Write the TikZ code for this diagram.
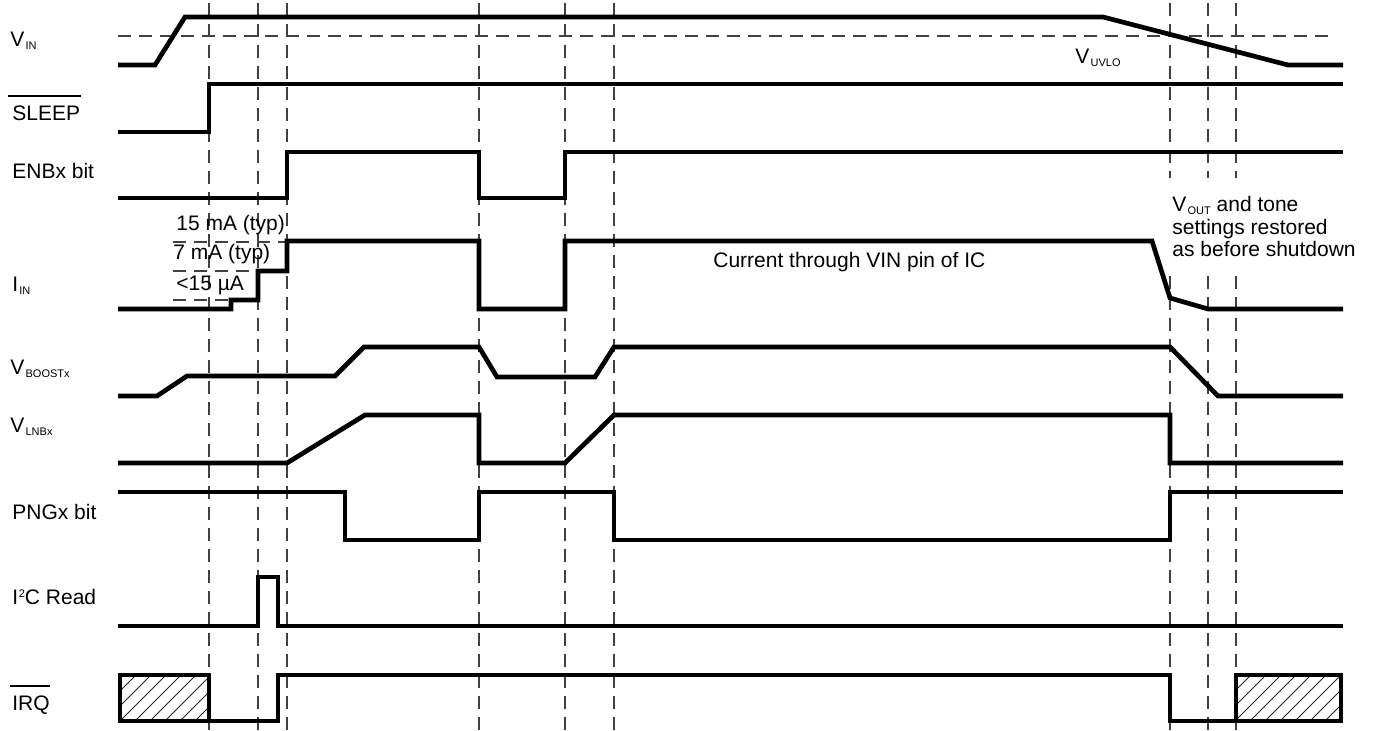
\documentclass[tikz,border=0pt]{standalone}
\usepackage{fontspec}
\setmainfont{Liberation Sans}
\newcommand\tsub[1]{\kern0.6pt\raisebox{-1.5pt}{\fontsize{5.5}{6}\selectfont #1}}
\newcommand\tsup[1]{\kern0.3pt\raisebox{3.8pt}{\fontsize{5.5}{6}\selectfont #1}}
\begin{document}
\begin{tikzpicture}[x=0.5pt,y=-0.5pt,
  sig/.style={line width=2.35pt,line join=miter,line cap=butt},
  guide/.style={line width=0.65pt,dash pattern=on 6.5pt off 4pt,black!75},
  lbl/.style={anchor=base west,inner sep=0pt,font=\fontsize{10.5}{12}\selectfont},
  hatchline/.style={line width=0.45pt,black!85},
  ovl/.style={line width=0.75pt}]
\useasboundingbox (0,0) rectangle (1373,731);

% timing guides
\foreach \x in {209,258,287,479,565,614,1170,1208,1236}
  \draw[guide] (\x,3) -- (\x,731);
\draw[guide] (118,36) -- (1335,36);
\draw[guide] (173,242) -- (287,242);
\draw[guide] (173,271) -- (258,271);
\draw[guide] (173,300) -- (231,300);

% white area behind the note
\fill[white] (1166,178) rectangle (1370,272);

% signals
\draw[sig] (118,65) -- (155,65) -- (185,17) -- (1103,17) -- (1288,65) -- (1343,65);
\draw[sig] (118,132) -- (209,132) -- (209,84) -- (1343,84);
\draw[sig] (118,198) -- (287,198) -- (287,152) -- (479,152) -- (479,198) -- (565,198) -- (565,152) -- (1343,152);
\draw[sig] (118,309) -- (231,309) -- (231,300) -- (258,300) -- (258,271) -- (287,271) -- (287,241) -- (479,241) -- (479,309) -- (565,309) -- (565,241) -- (1152,241) -- (1170,298) -- (1208,309) -- (1343,309);
\draw[sig] (118,396) -- (157,396) -- (187,376) -- (335,376) -- (364,347) -- (479,347) -- (497,377) -- (595,377) -- (614,347) -- (1170,347) -- (1218,396) -- (1343,396);
\draw[sig] (118,463) -- (287,463) -- (365,415) -- (479,415) -- (479,463) -- (565,463) -- (614,415) -- (1170,415) -- (1170,463) -- (1343,463);
\draw[sig] (118,492) -- (345,492) -- (345,540) -- (479,540) -- (479,492) -- (614,492) -- (614,540) -- (1170,540) -- (1170,492) -- (1343,492);
\draw[sig] (118,626) -- (258,626) -- (258,577) -- (278,577) -- (278,626) -- (1343,626);

% IRQ with hatched (undefined) regions
\begin{scope}
  \clip (120,675) rectangle (209,721);
  \foreach \i in {0,...,10} \draw[hatchline] (75+15*\i,721) -- ++(50,-50);
\end{scope}
\begin{scope}
  \clip (1236,675) rectangle (1341,721);
  \foreach \i in {0,...,11} \draw[hatchline] (1190+15*\i,721) -- ++(50,-50);
\end{scope}
\draw[sig] (120,675) rectangle (209,721);
\draw[sig] (1236,675) rectangle (1341,721);
\draw[sig] (209,721) -- (278,721) -- (278,675) -- (1170,675) -- (1170,721) -- (1236,721);

% signal names
\node[lbl] (lvin) at (10,47) {V\tsub{IN}};
\node[lbl] (lsleep) at (12,121) {SLEEP};
\draw[ovl] ([xshift=-2pt,yshift=5pt]lsleep.north west) -- ([yshift=5pt]lsleep.north east);
\node[lbl] (lenb) at (12,179) {ENBx bit};
\node[lbl] (lin) at (12,292) {I\tsub{IN}};
\node[lbl] (lboost) at (10,375) {V\tsub{BOOSTx}};
\node[lbl] (llnb) at (10,433) {V\tsub{LNBx}};
\node[lbl] (lpng) at (12,520) {PNGx bit};
\node[lbl] (li2c) at (12,605) {I\tsup{2}C Read};
\node[lbl] (lirq) at (12,711) {IRQ};
\draw[ovl] ([xshift=-1pt,yshift=5pt]lirq.north west) -- ([yshift=5pt]lirq.north east);

% annotations
\node[lbl] (t15) at (176,231) {15 mA (typ)};
\node[lbl] (t7) at (173,260) {7 mA (typ)};
\node[lbl] (tua) at (176,291) {<15 µA};
\node[lbl] (tcur) at (713,268) {Current through VIN pin of IC};
\node[lbl] (tuvlo) at (1075,64) {V\tsub{UVLO}};
\node[lbl] (tn1) at (1172,212) {V\tsub{OUT} and tone};
\node[lbl] (tn2) at (1172,235) {settings restored};
\node[lbl] (tn3) at (1172,257) {as before shutdown};
\end{tikzpicture}
\end{document}
